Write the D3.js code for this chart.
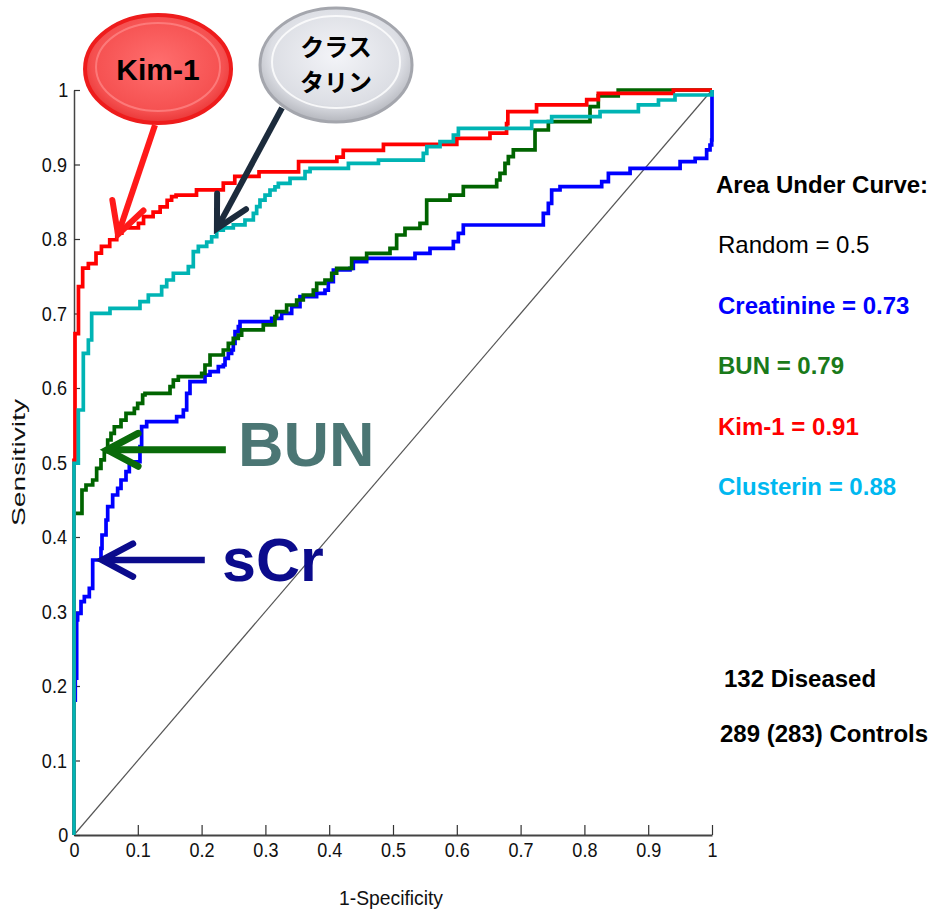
<!DOCTYPE html>
<html>
<head>
<meta charset="utf-8">
<script src="https://cdn.jsdelivr.net/npm/d3@7"></script>
<style>
  body { margin: 0; background: #fff; }
  svg { display: block; font-family: "Liberation Sans", Arial, sans-serif; }
  .narrow { transform-box: fill-box; transform-origin: center; transform: scaleX(0.86); }
</style>
</head>
<body>
<div id="chart"></div>
<script>
// ROC operating points (1-specificity, sensitivity)
const creatFpr = [0,0,0.002,0.0042,0.0057,0.011,0.0162,0.024,0.0293,0.0423,0.0439,0.0502,0.0528,0.0606,0.0684,0.0737,0.0815,0.0867,0.1034,0.106,0.1139,0.1609,0.1714,0.1766,0.1818,0.2053,0.2132,0.2262,0.2341,0.2367,0.2419,0.2471,0.2497,0.2524,0.2576,0.2602,0.3098,0.3255,0.3412,0.3542,0.3803,0.3934,0.3986,0.4065,0.4326,0.4378,0.4587,0.5345,0.558,0.5946,0.6024,0.6102,0.7356,0.7435,0.7487,0.7618,0.8271,0.8376,0.8716,0.95,0.9736,0.9916,0.9969,0.9995,1]
const creatTpr = [0,0.181,0.2107,0.2886,0.2975,0.3132,0.3199,0.3311,0.3691,0.3848,0.4027,0.4228,0.4407,0.4564,0.4653,0.4765,0.4877,0.501,0.5213,0.5481,0.5548,0.5615,0.5705,0.5928,0.6085,0.6174,0.6219,0.6286,0.6309,0.6398,0.6465,0.651,0.66,0.6756,0.6823,0.689,0.6935,0.7002,0.7092,0.7226,0.7271,0.7315,0.7427,0.7584,0.7606,0.7696,0.774,0.7808,0.7875,0.7964,0.8076,0.8188,0.8345,0.8479,0.8658,0.8702,0.877,0.8881,0.8949,0.9038,0.9083,0.9195,0.9262,0.9329,1]

const bunFpr = [0,0,0.0125,0.0188,0.0293,0.0355,0.0423,0.0475,0.0528,0.058,0.0632,0.0737,0.0815,0.0946,0.0998,0.1076,0.1113,0.1505,0.1557,0.1635,0.2001,0.2053,0.2132,0.234,0.2419,0.2497,0.2575,0.2628,0.2967,0.315,0.3177,0.3333,0.349,0.3594,0.3751,0.3804,0.3934,0.4039,0.4117,0.4352,0.4587,0.4953,0.5057,0.5188,0.5423,0.5528,0.5893,0.6102,0.6625,0.6677,0.6755,0.6808,0.6886,0.7226,0.7435,0.8088,0.8218,0.853,1]
const bunTpr = [0,0.4318,0.4631,0.4698,0.4765,0.4922,0.5034,0.5145,0.5302,0.5391,0.548,0.557,0.566,0.5727,0.5794,0.5906,0.5928,0.6018,0.6107,0.6152,0.6197,0.6309,0.6443,0.651,0.66,0.6667,0.6711,0.6779,0.6846,0.6957,0.7024,0.7114,0.7181,0.7248,0.7315,0.7405,0.745,0.754,0.7606,0.774,0.7808,0.7875,0.8054,0.8143,0.821,0.8523,0.859,0.8702,0.8792,0.8881,0.9016,0.9105,0.9195,0.9463,0.9575,0.9776,0.992,1,1]

const kimFpr = [0,0,0.0016,0.007,0.0136,0.0225,0.0345,0.043,0.056,0.067,0.075,0.101,0.109,0.124,0.135,0.146,0.153,0.16,0.192,0.234,0.252,0.29,0.352,0.412,0.422,0.485,0.6,0.652,0.678,0.68,0.725,0.8036,0.8218,0.9394,1]
const kimTpr = [0,0.503,0.673,0.736,0.761,0.767,0.781,0.79,0.799,0.808,0.815,0.821,0.83,0.836,0.843,0.852,0.857,0.859,0.866,0.875,0.884,0.89,0.904,0.91,0.919,0.927,0.935,0.942,0.955,0.971,0.98,0.987,0.9955,1,1]

const clusFpr = [0,0,0.0068,0.0146,0.0225,0.0277,0.0564,0.1034,0.1165,0.1374,0.1453,0.1557,0.1792,0.187,0.1949,0.208,0.2158,0.2237,0.234,0.2497,0.268,0.2811,0.2863,0.2915,0.2994,0.3072,0.315,0.3203,0.3386,0.3621,0.37,0.4301,0.4772,0.5475,0.553,0.5737,0.5946,0.6025,0.7174,0.7487,0.8245,0.8846,0.9161,0.942,1]
const clusTpr = [0,0.499,0.5705,0.6465,0.6644,0.7002,0.707,0.716,0.7248,0.736,0.745,0.754,0.763,0.783,0.79,0.796,0.803,0.812,0.815,0.819,0.8255,0.8345,0.8434,0.8523,0.859,0.8658,0.870,0.8747,0.8814,0.8904,0.8949,0.9016,0.906,0.915,0.924,0.9306,0.9396,0.9485,0.9575,0.9642,0.9709,0.98,0.9866,0.9933,1]

const ticks = [0,0.1,0.2,0.3,0.4,0.5,0.6,0.7,0.8,0.9,1]
const tickLabels = ['0','0.1','0.2','0.3','0.4','0.5','0.6','0.7','0.8','0.9','1']

const aucNames = ['Random','Creatinine','BUN','Kim-1','Clusterin']
const aucValues = [0.5, 0.73, 0.79, 0.91, 0.88]
const diseased = 132
const controls = 289
const controlsUsed = 283

const W = 935, H = 910
const x = d3.scaleLinear().domain([0, 1]).range([74, 712])
const y = d3.scaleLinear().domain([0, 1]).range([835, 90])

const svg = d3.select('#chart').append('svg')
  .attr('width', W).attr('height', H)
  .attr('viewBox', [0, 0, W, H])

svg.append('rect').attr('width', W).attr('height', H).attr('fill', '#fff')

const defs = svg.append('defs')
const redGrad = defs.append('radialGradient').attr('id', 'redBall')
  .attr('cx', '50%').attr('cy', '45%').attr('r', '60%')
redGrad.append('stop').attr('offset', '0%').attr('stop-color', '#ff6e6e')
redGrad.append('stop').attr('offset', '75%').attr('stop-color', '#f55050')
redGrad.append('stop').attr('offset', '100%').attr('stop-color', '#e42a2a')
const grayGrad = defs.append('radialGradient').attr('id', 'grayBall')
  .attr('cx', '50%').attr('cy', '42%').attr('r', '62%')
grayGrad.append('stop').attr('offset', '0%').attr('stop-color', '#f3f4f8')
grayGrad.append('stop').attr('offset', '70%').attr('stop-color', '#dcdee4')
grayGrad.append('stop').attr('offset', '100%').attr('stop-color', '#a9abb2')

// diagonal reference (random)
svg.append('line')
  .attr('x1', x(0)).attr('y1', y(0)).attr('x2', x(1)).attr('y2', y(1))
  .attr('stroke', '#555').attr('stroke-width', 1.2)

// axes
const gx = svg.append('g').attr('transform', `translate(0,${y(0)})`)
  .call(d3.axisBottom(x).tickValues(ticks).tickFormat((d, i) => tickLabels[i])
    .tickSizeInner(-10).tickSizeOuter(0).tickPadding(7))
gx.select('.domain').attr('stroke', '#444').attr('stroke-width', 2)
gx.selectAll('.tick line').attr('stroke', '#333').attr('stroke-width', 1.2)
gx.selectAll('.tick text').attr('font-size', 21).attr('fill', '#111').attr('class', 'narrow')
  .attr('font-family', '"Liberation Sans", Arial, sans-serif')

const gy = svg.append('g').attr('transform', `translate(${x(0)},0)`)
  .call(d3.axisLeft(y).tickValues(ticks).tickFormat((d, i) => tickLabels[i])
    .tickSizeInner(-6).tickSizeOuter(0).tickPadding(5))
gy.select('.domain').attr('stroke', '#444').attr('stroke-width', 1.5)
gy.selectAll('.tick line').attr('stroke', '#333').attr('stroke-width', 1.2)
gy.selectAll('.tick text').attr('font-size', 21).attr('fill', '#111').attr('class', 'narrow')
  .attr('font-family', '"Liberation Sans", Arial, sans-serif')

svg.append('text')
  .attr('x', (x(0) + x(1)) / 2 - 2).attr('y', 905)
  .attr('text-anchor', 'middle').attr('font-size', 21).attr('fill', '#111')
  .attr('textLength', 104).attr('lengthAdjust', 'spacingAndGlyphs')
  .text('1-Specificity')

svg.append('text')
  .attr('transform', `translate(25,${(y(0) + y(1)) / 2}) rotate(-90)`)
  .attr('text-anchor', 'middle').attr('font-size', 18).attr('fill', '#111')
  .attr('textLength', 127).attr('lengthAdjust', 'spacingAndGlyphs')
  .text('Sensitivity')

// ROC curves
const series = [
  { fpr: creatFpr, tpr: creatTpr, color: '#0000ff' },
  { fpr: bunFpr, tpr: bunTpr, color: '#006400' },
  { fpr: kimFpr, tpr: kimTpr, color: '#ff0000' },
  { fpr: clusFpr, tpr: clusTpr, color: '#00b4b4' }
]
const line = d3.line().x(d => x(d[0])).y(d => y(d[1])).curve(d3.curveStepAfter)
svg.append('g').selectAll('path')
  .data(series)
  .join('path')
  .attr('d', s => line(d3.zip(s.fpr, s.tpr)))
  .attr('fill', 'none')
  .attr('stroke', s => s.color)
  .attr('stroke-width', 3.7)
  .attr('stroke-linejoin', 'miter')

// arrows
function arrow(from, to, color, width){
  const x1 = x(from[0]), y1 = y(from[1]), x2 = x(to[0]), y2 = y(to[1])
  const a = Math.atan2(y1 - y2, x1 - x2)
  const len = 35, spread = 28 * Math.PI / 180
  const g = svg.append('g').attr('stroke', color).attr('stroke-width', width)
    .attr('stroke-linecap', 'round').attr('fill', 'none')
  g.append('line').attr('x1', x1).attr('y1', y1).attr('x2', x2).attr('y2', y2)
    .attr('stroke-linecap', 'butt')
  g.append('path').attr('d', `M${x2 + len * Math.cos(a - spread)},${y2 + len * Math.sin(a - spread)}L${x2},${y2}L${x2 + len * Math.cos(a + spread)},${y2 + len * Math.sin(a + spread)}`)
    .attr('stroke-linejoin', 'miter')
}

arrow([0.127, 0.953], [0.069, 0.806], '#ff1a1a', 6)
arrow([0.326, 0.976], [0.224, 0.814], '#1c2b3c', 6)
arrow([0.238, 0.517], [0.052, 0.517], '#0a6b0a', 7)
arrow([0.205, 0.369], [0.044, 0.369], '#0b0b8c', 6.5)

// bubbles
const kimBall = svg.append('g').attr('transform', `translate(${x(0.1317)},${y(1.0282)})`)
kimBall.append('ellipse').attr('rx', 73).attr('ry', 54)
  .attr('fill', 'url(#redBall)').attr('stroke', '#ee1c1c').attr('stroke-width', 4)
kimBall.append('ellipse').attr('rx', 62).attr('ry', 44).attr('cy', -2)
  .attr('fill', 'none').attr('stroke', '#ff8a8a').attr('stroke-width', 2).attr('opacity', 0.7)
kimBall.append('text').attr('text-anchor', 'middle').attr('dy', 11)
  .attr('font-size', 30).attr('font-weight', 'bold').attr('fill', '#000')
  .text('Kim-1')

const clusBall = svg.append('g').attr('transform', `translate(${x(0.4107)},${y(1.0336)})`)
clusBall.append('ellipse').attr('rx', 76).attr('ry', 57)
  .attr('fill', 'url(#grayBall)').attr('stroke', '#a4a6ad').attr('stroke-width', 3)
clusBall.append('ellipse').attr('rx', 64).attr('ry', 46).attr('cy', -3)
  .attr('fill', 'none').attr('stroke', '#ffffff').attr('stroke-width', 2).attr('opacity', 0.8)
const clusText = clusBall.append('text').attr('text-anchor', 'middle')
  .attr('font-family', '"Noto Sans CJK JP", sans-serif')
  .attr('font-size', 24).attr('font-weight', 'bold').attr('fill', '#000')
clusText.append('tspan').attr('x', 0).attr('y', -9).text('クラス')
clusText.append('tspan').attr('x', 0).attr('y', 26).text('タリン')

// big labels
svg.append('text').attr('x', x(0.257)).attr('y', y(0.495))
  .attr('font-size', 63).attr('font-weight', 'bold').attr('fill', '#4b7674')
  .text('BUN')
svg.append('text').attr('x', x(0.232)).attr('y', y(0.341))
  .attr('font-size', 61).attr('font-weight', 'bold').attr('fill', '#0b0b8c')
  .text('sCr')

// AUC panel
const aucColor = { 'Random': '#000', 'Creatinine': '#0000ff', 'BUN': '#1a7a1a', 'Kim-1': '#ff0000', 'Clusterin': '#00b8f0' }
const panel = svg.append('g').attr('font-size', 24)
panel.append('text').attr('x', 716).attr('y', 193).attr('font-weight', 'bold').attr('fill', '#000')
  .text('Area Under Curve:')
panel.selectAll('text.auc')
  .data(aucNames)
  .join('text')
  .attr('class', 'auc')
  .attr('x', 718)
  .attr('y', (d, i) => 253 + i * 60.5)
  .attr('font-weight', d => d === 'Random' ? 'normal' : 'bold')
  .attr('fill', d => aucColor[d])
  .text((d, i) => `${d} = ${aucValues[i]}`)

panel.append('text').attr('x', 724).attr('y', 687).attr('font-weight', 'bold')
  .text(`${diseased} Diseased`)
panel.append('text').attr('x', 720).attr('y', 742).attr('font-weight', 'bold')
  .text(`${controls} (${controlsUsed}) Controls`)
</script>
</body>
</html>
